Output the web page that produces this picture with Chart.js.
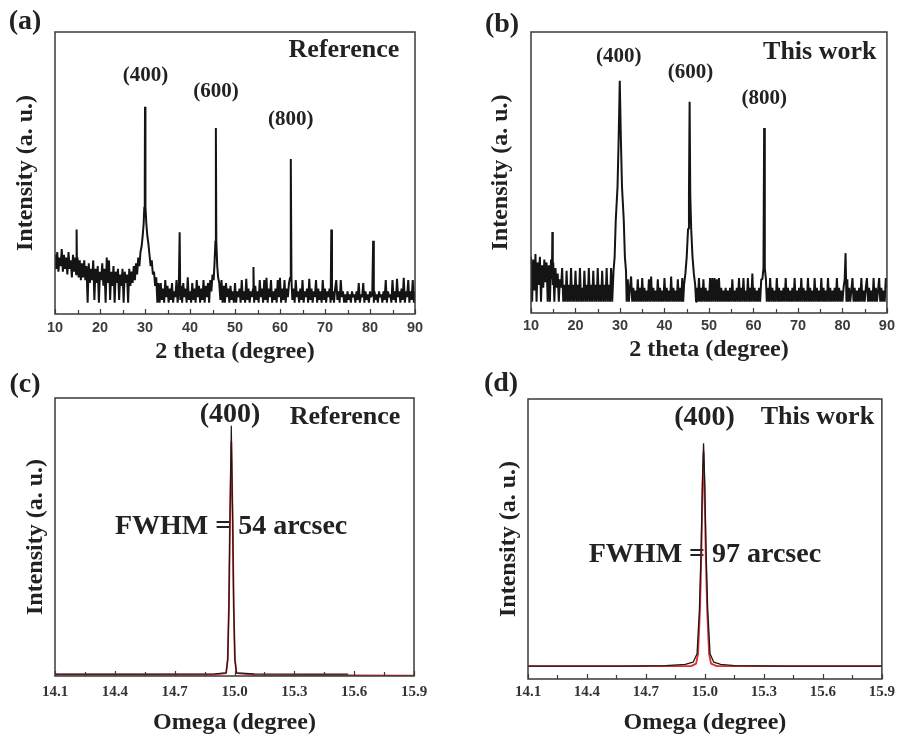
<!DOCTYPE html>
<html>
<head>
<meta charset="utf-8">
<script src="https://cdn.jsdelivr.net/npm/chart.js@4.4.1/dist/chart.umd.min.js"></script>
<style>
  html, body { margin: 0; padding: 0; background: #fff; }
  #wrap { position: relative; width: 899px; height: 737px; background: #fff; overflow: hidden; }
  canvas { position: absolute; }
</style>
</head>
<body>
<div id="wrap">
  <canvas id="cA" width="450" height="370" style="left:0;top:0"></canvas>
  <canvas id="cB" width="449" height="370" style="left:450px;top:0"></canvas>
  <canvas id="cC" width="450" height="367" style="left:0;top:370px"></canvas>
  <canvas id="cD" width="449" height="367" style="left:450px;top:370px"></canvas>
</div>
<script>
// ---------------- DATA ----------------
// (a) XRD 2theta scan, Reference
const twoThetaA = [
  10,10.25,10.5,10.75,11,11.25,11.5,11.75,12,12.25,
  12.5,12.75,13,13.25,13.5,13.75,14,14.25,14.5,14.7,
  14.8,14.9,15,15.25,15.5,15.75,16,16.25,16.5,16.75,
  17,17.25,17.5,17.75,18,18.25,18.5,18.75,19,19.25,
  19.5,19.75,20,20.25,20.5,20.75,21,21.25,21.5,21.75,
  22,22.25,22.5,22.75,23,23.25,23.5,23.75,24,24.25,
  24.5,24.75,25,25.25,25.5,25.75,26,26.25,26.5,26.75,
  27,27.25,27.5,27.75,28,28.25,28.5,28.75,29,29.25,
  29.5,29.7,29.85,29.95,30,30.05,30.15,30.3,30.5,30.75,
  31,31.25,31.5,31.75,32,32.25,32.5,32.75,33,33.25,
  33.5,33.75,34,34.25,34.5,34.75,35,35.25,35.5,35.75,
  36,36.25,36.5,36.75,37,37.25,37.5,37.7,37.85,38,
  38.25,38.5,38.75,39,39.25,39.5,39.75,40,40.25,40.5,
  40.75,41,41.25,41.5,41.75,42,42.25,42.5,42.75,43,
  43.25,43.5,43.75,44,44.25,44.5,44.75,45,45.25,45.45,
  45.65,45.75,45.85,46.05,46.25,46.5,46.75,47,47.25,47.5,
  47.75,48,48.25,48.5,48.75,49,49.25,49.5,49.75,50,
  50.25,50.5,50.75,51,51.25,51.5,51.75,52,52.25,52.5,
  52.75,53,53.25,53.5,53.75,54,54.1,54.25,54.5,54.75,
  55,55.25,55.5,55.75,56,56.25,56.5,56.75,57,57.25,
  57.5,57.75,58,58.25,58.5,58.75,59,59.25,59.5,59.75,
  60,60.25,60.5,60.75,61,61.25,61.5,61.75,62,62.25,
  62.4,62.55,62.75,63,63.25,63.5,63.75,64,64.25,64.5,
  64.75,65,65.25,65.5,65.75,66,66.25,66.5,66.75,67,
  67.25,67.5,67.75,68,68.25,68.5,68.75,69,69.25,69.5,
  69.75,70,70.25,70.5,70.75,71,71.25,71.4,71.55,71.75,
  72,72.25,72.5,72.75,73,73.25,73.5,73.75,74,74.25,
  74.5,74.75,75,75.25,75.5,75.75,76,76.25,76.5,76.75,
  77,77.25,77.5,77.75,78,78.25,78.5,78.75,79,79.25,
  79.5,79.75,80,80.25,80.5,80.7,80.85,81,81.25,81.5,
  81.75,82,82.25,82.5,82.75,83,83.25,83.5,83.75,84,
  84.25,84.5,84.75,85,85.25,85.5,85.75,86,86.25,86.5,
  86.75,87,87.25,87.5,87.75,88,88.25,88.5,88.75,89,
  89.25,89.5,89.75,90
];
const intensityA = [
  21,16,22,15,20,17,23,15,21,16,
  20,14,22,16,19,13,21,15,20,14,
  30,15,20,13,19,12,18,13,19,12,
  17,4,18,11,16,12,19,5,16,11,
  17,4,15,12,18,10,16,4,20,11,
  19,5,15,10,17,4,15,11,16,5,
  14,10,16,4,15,11,14,4,16,10,
  15,11,17,12,18,14,20,17,22,24,
  28,32,38,48,73.5,48,38,32,28,25,
  21,17,19,14,15,10,13,4,11,4,
  11,5,9,4,12,6,10,4,9,5,
  11,4,8,6,12,4,9,29,5,10,
  4,11,6,9,4,13,5,8,4,11,
  5,9,4,12,6,10,4,9,5,12,
  4,10,6,11,4,12,8,14,12,18,
  26,66,26,17,13,11,5,12,4,10,
  4,11,6,9,4,10,5,8,4,11,
  4,8,6,9,4,12,5,8,4,12.5,
  5,9,4,8,6,9,16.7,4,10,5,
  8,4,12,6,9,4,12,5,12.8,4,
  9,6,12,4,8,5,9,4,12,6,
  12.8,4,9,5,12,4,9,6,11,13,
  55,12,5,9,4,12,6,8,4,9,
  5,12,4,8,6,9,4,12.5,5,9,
  4,8,6,12,4,9,5,8,4,12,
  5,9,4,8,6,9,4,30,5,8,
  4,9,12,5,8,4,12,6,8,4,
  7,4,8,5,7,4,8,6,7,4,
  8,5,11,4,7,6,11,4,8,5,
  7,4,8,6,7,26,4,8,5,7,
  4,8,6,7,4,8,5,12,4,8,
  6,7,4,12,5,8,4,12.5,6,8,
  4,9,5,12.8,4,8,6,12,4,8,
  5,12,4,8
];

// (b) XRD 2theta scan, This work
const twoThetaB = [
  10,10.25,10.5,10.75,11,11.25,11.5,11.75,12,12.25,
  12.5,12.75,13,13.25,13.5,13.75,14,14.25,14.5,14.7,
  14.8,14.9,15,15.25,15.5,15.75,16,16.25,16.5,16.75,
  17,17.25,17.5,17.75,18,18.25,18.5,18.75,19,19.25,
  19.5,19.75,20,20.25,20.5,20.75,21,21.25,21.5,21.75,
  22,22.25,22.5,22.75,23,23.25,23.5,23.75,24,24.25,
  24.5,24.75,25,25.25,25.5,25.75,26,26.25,26.5,26.75,
  27,27.25,27.5,27.75,28,28.25,28.55,28.8,29.05,29.45,
  29.7,29.95,30.2,30.45,30.85,31.1,31.35,31.5,31.75,32,
  32.25,32.5,32.75,33,33.25,33.5,33.75,34,34.25,34.5,
  34.75,35,35.25,35.5,35.75,36,36.25,36.5,36.75,37,
  37.25,37.5,37.75,38,38.25,38.5,38.75,39,39.25,39.5,
  39.75,40,40.25,40.5,40.75,41,41.25,41.5,41.75,42,
  42.25,42.5,42.75,43,43.25,43.5,43.75,44,44.2,44.4,
  44.7,45,45.3,45.5,45.65,45.8,46,46.3,46.6,46.9,
  47.1,47.25,47.5,47.75,48,48.25,48.5,48.75,49,49.25,
  49.5,49.75,50,50.25,50.5,50.75,51,51.25,51.5,51.75,
  52,52.25,52.5,52.75,53,53.25,53.5,53.75,54,54.25,
  54.5,54.75,55,55.25,55.5,55.75,56,56.25,56.5,56.75,
  57,57.25,57.5,57.75,58,58.25,58.5,58.75,59,59.25,
  59.5,59.75,60,60.25,60.5,60.75,61,61.25,61.5,61.75,
  62,62.25,62.4,62.55,62.8,63,63.25,63.5,63.75,64,
  64.25,64.5,64.75,65,65.25,65.5,65.75,66,66.25,66.5,
  66.75,67,67.25,67.5,67.75,68,68.25,68.5,68.75,69,
  69.25,69.5,69.75,70,70.25,70.5,70.75,71,71.25,71.5,
  71.75,72,72.25,72.5,72.75,73,73.25,73.5,73.75,74,
  74.25,74.5,74.75,75,75.25,75.5,75.75,76,76.25,76.5,
  76.75,77,77.25,77.5,77.75,78,78.25,78.5,78.75,79,
  79.25,79.5,79.75,80,80.25,80.5,80.7,80.9,81.1,81.25,
  81.5,81.75,82,82.25,82.5,82.75,83,83.25,83.5,83.75,
  84,84.25,84.5,84.75,85,85.25,85.5,85.75,86,86.25,
  86.5,86.75,87,87.25,87.5,87.75,88,88.25,88.5,88.75,
  89,89.25,89.5,89.75,90
];
const intensityB = [
  20,4,19,8,21,4,18,10,20,4,
  17,9,19,11,18,4,17,4,19,12,
  28.8,10,18,4,16,9,14,4,12,9,
  16,4,10,4,15,4,10,4,16,4,
  10,4,15,4,10,4,16,4,9,4,
  15,4,10,4,16,4,10,4,15,4,
  10,4,16,4,10,4,15,4,10,4,
  16,4,10,4,16,4,15,20,33,45,
  62,82.6,62,45,33,20,15,4,12,4,
  9,13,4,9,4,8,4,12,4,9,
  4,12.4,4,9,4,8,4,12,4,13,
  4,9,4,8,4,12,4,9,4,8,
  4,12.4,4,9,4,8,4,13,4,9,
  4,8,4,12,4,9,4,12.4,4,10,
  14,20,30,42,75.2,42,30,20,14,10,
  4,9,4,12.4,4,9,4,12,4,9,
  4,8,4,12.4,4,12.4,4,12.4,4,12,
  4,12.4,4,9,4,8,4,9,4,8,
  4,9,4,12,4,8,4,9,4,12.4,
  4,9,4,12.4,4,8,4,12.4,4,9,
  4,14,4,9,4,8,4,9,4,12,
  12,16,65.8,16,12,4,9,4,12.4,4,
  9,4,8,4,12.4,4,9,4,8,4,
  9,4,12.4,4,9,4,8,4,9,4,
  12.4,4,8,4,9,4,12.4,4,9,4,
  8,4,12.4,4,9,4,8,4,12.4,4,
  9,4,8,4,12.4,4,9,4,8,4,
  12.4,4,9,4,8,4,9,4,12.4,4,
  9,4,8,4,9,12,21.3,4,12,4,
  9,4,8,12.4,4,9,4,8,4,9,
  4,12.4,4,8,4,9,12.4,4,9,4,
  8,4,12.4,4,9,4,8,12.4,4,9,
  4,8,4,12.4,9
];

// (c) rocking curve, Reference: measured (black) and fit (red)
const omegaC     = [14.1, 14.5, 14.9, 14.958, 14.966, 14.972, 14.977, 14.984, 14.991, 14.996, 15.002, 15.01, 15.1, 15.4, 15.57];
const measuredC  = [0.7, 0.7, 0.8, 1.1, 6, 25, 55, 90, 55, 25, 6, 1.1, 0.8, 0.7, 0.7];
const omegaFitC  = [14.1, 14.9, 14.958, 14.966, 14.972, 14.977, 14.984, 14.991, 14.996, 15.002, 15.01, 15.1, 15.9];
const fitC       = [0.5, 0.5, 1, 6, 25, 55, 84.3, 55, 25, 6, 1, 0.4, 0.1];

// (d) rocking curve, This work
const omegaD     = [14.1, 14.6, 14.8, 14.9, 14.94, 14.96, 14.972, 14.98, 14.987, 14.993, 14.999, 15.006, 15.014, 15.026, 15.045, 15.08, 15.15, 15.4, 15.9];
const measuredD  = [4.6, 4.6, 4.8, 5.2, 6, 9, 25, 45, 70, 84.2, 70, 45, 25, 9, 6, 5.2, 4.8, 4.6, 4.6];
const omegaFitD  = [14.1, 14.93, 14.955, 14.965, 14.975, 14.982, 14.988, 14.993, 14.998, 15.004, 15.011, 15.021, 15.031, 15.06, 15.9];
const fitD       = [4.6, 4.6, 5.5, 9, 25, 45, 68, 81.2, 68, 45, 25, 9, 5.5, 4.6, 4.6];

// tick labels
const xTicksXRD = [10, 20, 30, 40, 50, 60, 70, 80, 90];
const xMinorXRD = [15, 25, 35, 45, 55, 65, 75, 85];
const xTicksRC  = [14.1, 14.4, 14.7, 15.0, 15.3, 15.6, 15.9];
const xMinorRC  = [14.25, 14.55, 14.85, 15.15, 15.45, 15.75];

// ---------------- RENDERING ----------------
const SERIF = '"Liberation Serif", "Times New Roman", serif';
const SANS = '"Liberation Sans", Arial, sans-serif';

function pts(xs, ys) { return xs.map((x, i) => ({ x: x, y: ys[i] })); }

const panelPlugin = {
  id: 'panel',
  beforeDatasetsDraw(chart, args, opts) {
    const { ctx } = chart;
    const sx = chart.scales.x, sy = chart.scales.y;
    ctx.save();
    ctx.fillStyle = '#222';
    ctx.textAlign = 'center';
    ctx.textBaseline = 'middle';
    for (const t of opts.notes) {
      ctx.font = 'bold ' + t.size + 'px ' + SERIF;
      ctx.fillText(t.text, sx.getPixelForValue(t.x), sy.getPixelForValue(t.y));
    }
    ctx.restore();
  },
  afterDatasetsDraw(chart, args, opts) {
    const { ctx, chartArea: a } = chart;
    const sx = chart.scales.x;
    ctx.save();
    ctx.strokeStyle = '#3a3a3a';
    ctx.lineWidth = 1.5;
    ctx.strokeRect(a.left, a.top, a.right - a.left, a.bottom - a.top);
    ctx.lineWidth = 1.2;
    ctx.beginPath();
    for (const v of opts.major) {
      const p = Math.round(sx.getPixelForValue(v)) + 0.5;
      ctx.moveTo(p, a.bottom); ctx.lineTo(p, a.bottom - 5);
    }
    for (const v of opts.minor) {
      const p = Math.round(sx.getPixelForValue(v)) + 0.5;
      ctx.moveTo(p, a.bottom); ctx.lineTo(p, a.bottom - 4);
    }
    ctx.stroke();
    ctx.fillStyle = '#222';
    ctx.font = 'bold 28px ' + SERIF;
    ctx.textAlign = 'center';
    ctx.textBaseline = 'middle';
    ctx.fillText(opts.letter.text, opts.letter.px, opts.letter.py);
    ctx.restore();
  }
};

function makeChart(id, cfg) {
  return new Chart(document.getElementById(id), {
    type: 'line',
    data: { datasets: cfg.datasets },
    options: {
      responsive: false,
      animation: false,
      devicePixelRatio: 1,
      layout: { padding: { left: 0, right: cfg.padRight, top: cfg.padTop, bottom: 0 } },
      plugins: {
        legend: { display: false },
        tooltip: { enabled: false },
        panel: { notes: cfg.notes, major: cfg.major, minor: cfg.minor, letter: cfg.letter }
      },
      elements: { point: { radius: 0 }, line: { tension: 0, borderJoinStyle: 'bevel' } },
      scales: {
        x: {
          type: 'linear', min: cfg.xmin, max: cfg.xmax,
          afterBuildTicks: s => { s.ticks = cfg.major.map(v => ({ value: v })); },
          afterFit: s => { s.height = cfg.xHeight; },
          grid: { display: false, drawTicks: false },
          border: { display: false },
          ticks: {
            autoSkip: false, maxRotation: 0, padding: cfg.tickPad,
            color: cfg.tickColor,
            font: { family: cfg.tickFamily, size: cfg.tickSize, weight: 'bold' },
            callback: cfg.tickFmt
          },
          title: {
            display: true, text: cfg.xTitle, color: '#222',
            font: { family: SERIF, size: 24, weight: 'bold', lineHeight: 1.2 },
            padding: { top: 0, bottom: cfg.xTitlePad }
          }
        },
        y: {
          type: 'linear', min: 0, max: 100,
          afterFit: s => { s.width = cfg.yWidth; },
          grid: { display: false, drawTicks: false },
          border: { display: false },
          ticks: { display: false },
          title: {
            display: true, text: 'Intensity (a. u.)', color: '#222',
            font: { family: SERIF, size: 24, weight: 'bold', lineHeight: 1.2 },
            padding: { top: cfg.yTitlePad, bottom: 0 }
          }
        }
      }
    },
    plugins: [panelPlugin]
  });
}

const xrdTick = v => String(v);
const rcTick = v => v.toFixed(1);

makeChart('cA', {
  datasets: [{ data: pts(twoThetaA, intensityA), borderColor: '#141414', borderWidth: 2 }],
  xmin: 10, xmax: 90, padRight: 35, padTop: 32, xHeight: 56, yWidth: 55,
  tickPad: 5, tickColor: '#3c3c3c', tickFamily: SANS, tickSize: 14.5, tickFmt: xrdTick,
  xTitle: '2 theta (degree)', xTitlePad: 4, yTitlePad: 11,
  major: xTicksXRD, minor: xMinorXRD,
  letter: { text: '(a)', px: 25, py: 22 },
  notes: [
    { text: '(400)', x: 30.1, y: 84.4, size: 21 },
    { text: '(600)', x: 45.8, y: 78.7, size: 21 },
    { text: '(800)', x: 62.4, y: 68.8, size: 21 },
    { text: 'Reference', x: 74.2, y: 93.6, size: 26 }
  ]
});

makeChart('cB', {
  datasets: [{ data: pts(twoThetaB, intensityB), borderColor: '#141414', borderWidth: 2 }],
  xmin: 10, xmax: 90, padRight: 11, padTop: 32, xHeight: 57, yWidth: 81,
  tickPad: 4, tickColor: '#3c3c3c', tickFamily: SANS, tickSize: 14.5, tickFmt: xrdTick,
  xTitle: '2 theta (degree)', xTitlePad: 6, yTitlePad: 36,
  major: xTicksXRD, minor: xMinorXRD,
  letter: { text: '(b)', px: 52, py: 25 },
  notes: [
    { text: '(400)', x: 29.7, y: 91.1, size: 21 },
    { text: '(600)', x: 45.85, y: 85.4, size: 21 },
    { text: '(800)', x: 62.4, y: 76.2, size: 21 },
    { text: 'This work', x: 74.9, y: 92.9, size: 26 }
  ]
});

makeChart('cC', {
  datasets: [
    { data: pts(omegaC, measuredC), borderColor: '#1a1a1a', borderWidth: 1.2 },
    { data: pts(omegaFitC, fitC), borderColor: 'rgb(226,45,45)', borderWidth: 1.8 }
  ],
  xmin: 14.1, xmax: 15.9, padRight: 36, padTop: 28, xHeight: 61, yWidth: 55,
  tickPad: 7, tickColor: '#333', tickFamily: SERIF, tickSize: 15, tickFmt: rcTick,
  xTitle: 'Omega (degree)', xTitlePad: 0, yTitlePad: 21,
  major: xTicksRC, minor: xMinorRC,
  letter: { text: '(c)', px: 25, py: 15 },
  notes: [
    { text: '(400)', x: 14.978, y: 93.9, size: 28 },
    { text: 'Reference', x: 15.554, y: 93.2, size: 26 },
    { text: 'FWHM = 54 arcsec', x: 14.983, y: 53.6, size: 28 }
  ]
});

makeChart('cD', {
  datasets: [
    { data: pts(omegaD, measuredD), borderColor: '#1a1a1a', borderWidth: 1.3 },
    { data: pts(omegaFitD, fitD), borderColor: 'rgb(226,45,45)', borderWidth: 1.8 }
  ],
  xmin: 14.1, xmax: 15.9, padRight: 14, padTop: 29, xHeight: 58, yWidth: 78,
  tickPad: 4, tickColor: '#333', tickFamily: SERIF, tickSize: 15, tickFmt: rcTick,
  xTitle: 'Omega (degree)', xTitlePad: 0, yTitlePad: 44,
  major: xTicksRC, minor: xMinorRC,
  letter: { text: '(d)', px: 51, py: 14 },
  notes: [
    { text: '(400)', x: 14.998, y: 93.2, size: 28 },
    { text: 'This work', x: 15.572, y: 93.6, size: 26 },
    { text: 'FWHM = 97 arcsec', x: 15.0, y: 44.3, size: 28 }
  ]
});
</script>
</body>
</html>
